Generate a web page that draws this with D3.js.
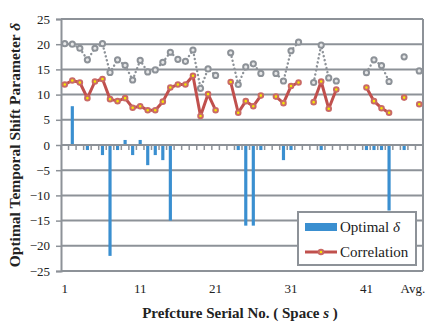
<!DOCTYPE html>
<html>
<head>
<meta charset="utf-8">
<script src="https://cdn.jsdelivr.net/npm/d3@7"></script>
<style>
  body { margin: 0; background: #fff; }
  svg { display: block; font-family: 'Liberation Serif', 'Times New Roman', serif; }
</style>
</head>
<body>
<svg id="chart" width="435" height="322"></svg>
<script>
// categories: prefecture serial numbers 1..47 plus the average
const categories = d3.range(1, 48).map(String).concat(['Avg.']);
const labelledTicks = ['1', '11', '21', '31', '41', 'Avg.'];
const yTicks = [-25, -20, -15, -10, -5, 0, 5, 10, 15, 20, 25];

const optimalDelta = [
  0, 7.7, 0, -1, 0, -2, -22, -1, 1, -2,
  1, -4, -2, -3, -15, 0, 0, 0, 0, 0,
  0, 0, 0, -1, -16, -16, -1, 0, 0, -3,
  -1, 0, 0, 0, -1, 0, 0, 0, 0, 0,
  -1, -1, -1, -13, 0, -1, 0, null
];

const correlation = [
  12.0, 12.8, 12.4, 9.3, 12.6, 13.1, 9.1, 8.7, 9.3, 7.4,
  7.7, 6.9, 6.9, 8.6, 11.4, 12.0, 12.0, 13.75, 5.75, 10.1,
  6.9, null, 12.5, 6.4, 8.7, 7.7, 9.8, null, 9.6, 8.3,
  11.7, 12.4, null, 8.5, 12.6, 7.2, 11.0, null, null, null,
  11.4, 8.7, 7.3, 6.4, null, 9.4, null, 8.1
];

// grey dotted series (not listed in the legend)
const upperSeries = [
  20.1, 20.0, 19.2, 16.9, 19.2, 20.1, 14.4, 16.9, 15.8, 12.9,
  16.8, 14.5, 14.9, 16.4, 18.4, 17.0, 16.6, 18.85, 11.25, 15.1,
  13.8, null, 18.3, 12.0, 15.5, 16.1, 14.2, null, 14.2, 12.7,
  18.7, 20.4, null, 12.4, 19.8, 13.3, 12.7, null, null, null,
  14.35, 16.9, 15.75, 12.6, null, 17.5, null, 14.7
];

const plot = { left: 61, right: 423, top: 19, bottom: 271 };
const gridColor = '#8d9298';
const barColor = '#3a8fd0';
const redColor = '#c0504d';
const greyColor = '#8d9298';

const svg = d3.select('#chart');

const x = d3.scaleBand()
  .domain(categories)
  .range([plot.left, plot.right]);

const y = d3.scaleLinear()
  .domain([-25, 25])
  .range([plot.bottom, plot.top]);

// horizontal gridlines
svg.append('g')
  .selectAll('line')
  .data(yTicks)
  .enter().append('line')
  .attr('x1', plot.left)
  .attr('x2', plot.right)
  .attr('y1', d => y(d))
  .attr('y2', d => y(d))
  .attr('stroke', gridColor)
  .attr('stroke-width', 2);

// right border
svg.append('line')
  .attr('x1', plot.right).attr('x2', plot.right)
  .attr('y1', plot.top).attr('y2', plot.bottom)
  .attr('stroke', gridColor)
  .attr('stroke-width', 2);

// left value axis
const yAxis = svg.append('g')
  .attr('transform', 'translate(' + plot.left + ',0)')
  .call(d3.axisLeft(y).tickValues(yTicks).tickSize(5).tickPadding(6));
yAxis.select('.domain').attr('stroke', gridColor).attr('stroke-width', 2);
yAxis.selectAll('.tick line').attr('stroke', gridColor).attr('stroke-width', 1.5);
yAxis.selectAll('.tick text')
  .attr('fill', '#222')
  .style('font-size', '13px')
  .style('font-family', "'Liberation Serif', serif");

// bars
const barWidth = x.bandwidth() * 0.42;
svg.append('g')
  .selectAll('rect')
  .data(categories.map((c, i) => ({ cat: c, v: optimalDelta[i] })).filter(d => d.v !== null && d.v !== 0))
  .enter().append('rect')
  .attr('x', d => x(d.cat) + (x.bandwidth() - barWidth) / 2)
  .attr('y', d => y(Math.max(0, d.v)))
  .attr('width', barWidth)
  .attr('height', d => Math.abs(y(d.v) - y(0)))
  .attr('fill', barColor);

// category axis crossing at zero (tick marks at band boundaries)
const boundaries = categories.map(c => x(c)).concat([plot.right]);
svg.append('g')
  .selectAll('line')
  .data(boundaries)
  .enter().append('line')
  .attr('x1', d => d)
  .attr('x2', d => d)
  .attr('y1', y(0))
  .attr('y2', y(0) + 5)
  .attr('stroke', gridColor)
  .attr('stroke-width', 1.5);
svg.append('line')
  .attr('x1', plot.left).attr('x2', plot.right)
  .attr('y1', y(0)).attr('y2', y(0))
  .attr('stroke', gridColor)
  .attr('stroke-width', 2);

// category labels at the bottom
const xAxis = svg.append('g')
  .attr('transform', 'translate(0,' + plot.bottom + ')')
  .call(d3.axisBottom(x).tickValues(labelledTicks).tickSize(0).tickPadding(13));
xAxis.select('.domain').remove();
xAxis.selectAll('.tick text')
  .attr('fill', '#222')
  .style('font-size', '13px')
  .style('font-family', "'Liberation Serif', serif")
  .attr('text-anchor', d => d === 'Avg.' ? 'end' : 'middle')
  .attr('dx', d => d === 'Avg.' ? 6 : 0);

// grey dotted series
const line = d3.line()
  .defined(d => d.v !== null)
  .x(d => x(d.cat) + x.bandwidth() / 2)
  .y(d => y(d.v));

const greyData = categories.map((c, i) => ({ cat: c, v: upperSeries[i] }));
svg.append('path')
  .datum(greyData)
  .attr('d', line)
  .attr('fill', 'none')
  .attr('stroke', greyColor)
  .attr('stroke-width', 2.4)
  .attr('stroke-linecap', 'round')
  .attr('stroke-dasharray', '0.1 4');

svg.append('g')
  .selectAll('circle')
  .data(greyData.filter(d => d.v !== null))
  .enter().append('circle')
  .attr('cx', d => x(d.cat) + x.bandwidth() / 2)
  .attr('cy', d => y(d.v))
  .attr('r', 2.6)
  .attr('fill', '#e6e7e8')
  .attr('stroke', greyColor)
  .attr('stroke-width', 2);

// correlation series
const redData = categories.map((c, i) => ({ cat: c, v: correlation[i] }));
svg.append('path')
  .datum(redData)
  .attr('d', line)
  .attr('fill', 'none')
  .attr('stroke', redColor)
  .attr('stroke-width', 3)
  .attr('stroke-linejoin', 'round');

svg.append('g')
  .selectAll('circle')
  .data(redData.filter(d => d.v !== null))
  .enter().append('circle')
  .attr('cx', d => x(d.cat) + x.bandwidth() / 2)
  .attr('cy', d => y(d.v))
  .attr('r', 2.3)
  .attr('fill', '#f5e600')
  .attr('stroke', '#c96a66')
  .attr('stroke-width', 2);

// legend
const legend = svg.append('g').attr('transform', 'translate(298,212)');
legend.append('rect')
  .attr('width', 118)
  .attr('height', 53)
  .attr('fill', '#fff')
  .attr('stroke', gridColor)
  .attr('stroke-width', 2);
legend.append('rect')
  .attr('x', 7).attr('y', 11)
  .attr('width', 32).attr('height', 8)
  .attr('fill', barColor);
legend.append('text')
  .attr('x', 42).attr('y', 15)
  .attr('dy', '0.35em')
  .style('font-size', '15px')
  .attr('fill', '#222')
  .html('Optimal <tspan font-style="italic">δ</tspan>');
legend.append('line')
  .attr('x1', 7).attr('x2', 39)
  .attr('y1', 40).attr('y2', 40)
  .attr('stroke', redColor)
  .attr('stroke-width', 3);
legend.append('circle')
  .attr('cx', 23).attr('cy', 40)
  .attr('r', 2.3)
  .attr('fill', '#f5e600')
  .attr('stroke', '#c96a66')
  .attr('stroke-width', 2);
legend.append('text')
  .attr('x', 42).attr('y', 40)
  .attr('dy', '0.35em')
  .style('font-size', '15px')
  .attr('fill', '#222')
  .text('Correlation');

// axis titles
svg.append('text')
  .attr('x', 240)
  .attr('y', 318)
  .attr('text-anchor', 'middle')
  .style('font-size', '15px')
  .style('font-weight', 'bold')
  .attr('fill', '#222')
  .html('Prefcture Serial No. ( Space <tspan font-style="italic">s</tspan> )');

svg.append('text')
  .attr('transform', 'translate(20,' + ((plot.top + plot.bottom) / 2) + ') rotate(-90)')
  .attr('text-anchor', 'middle')
  .style('font-size', '15.5px')
  .style('font-weight', 'bold')
  .attr('fill', '#222')
  .html('Optimal Temporal Shift Parameter <tspan font-style="italic">δ</tspan>');
</script>
</body>
</html>
